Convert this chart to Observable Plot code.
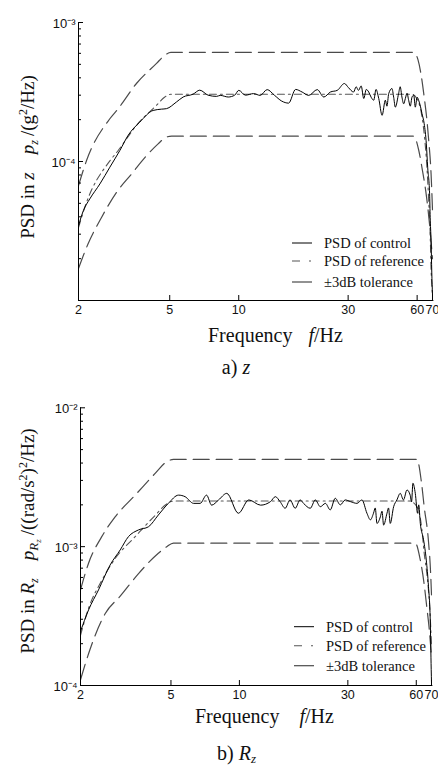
<!DOCTYPE html>
<html><head><meta charset="utf-8">
<script src="https://cdn.jsdelivr.net/npm/d3@7"></script>
<script src="https://cdn.jsdelivr.net/npm/@observablehq/plot@0.6"></script>
<style>
body{margin:0;background:#fff;}
#root{position:relative;width:438px;height:767px;overflow:hidden;background:#fff;}
#root svg{display:block;position:absolute;left:0;}
</style></head><body><div id="root"></div>
<script>
// ---------- data ----------
const xTicks = [2, 5, 10, 30, 60, 70];
const xTickLabels = ["2", "5", "10", "30", "60", "70"];
const legendLabels = ["PSD of control", "PSD of reference", "\u00B13dB tolerance"];

// a) z
const aYMajor = [1e-4, 1e-3];
const aYMinor = [2e-5,3e-5,4e-5,5e-5,6e-5,7e-5,8e-5,9e-5,2e-4,3e-4,4e-4,5e-4,6e-4,7e-4,8e-4,9e-4];
const aUpper = [[2,6.7e-5],[2.17,1.02e-4],[2.74,2.03e-4],[2.98,2.4e-4],[3.58,3.64e-4],[4.38,5.08e-4],[4.76,5.82e-4],[5.06,6.1e-4],[58,6.1e-4],[60.5,5.4e-4],[62.3,4.3e-4],[64.4,2.91e-4],[66.2,1.98e-4],[67.4,1.42e-4],[69,8.2e-5],[70,4.5e-5]];
const aRef = [[2,3.35e-5],[2.17,5.1e-5],[2.74,1.01e-4],[2.98,1.2e-4],[3.58,1.82e-4],[4.38,2.54e-4],[4.76,2.91e-4],[5.06,3.05e-4],[57,3.05e-4],[60,2.8e-4],[62.3,2.33e-4],[64.4,1.58e-4],[66.2,9.1e-5],[67.4,5.2e-5],[68.4,3e-5],[69,1.7e-5],[70,1.1e-5]];
const aLower = [[2,1.7e-5],[2.2,2.55e-5],[2.52,3.96e-5],[2.93,6.0e-5],[3.41,8.15e-5],[3.96,1.1e-4],[4.45,1.34e-4],[4.84,1.5e-4],[5.1,1.52e-4],[58,1.52e-4],[61,1.2e-4],[63,9e-5],[66,5.5e-5],[68,3.5e-5],[70,2e-5]];
const aControl = [[2.0,3.45e-5],[2.10,4.43e-5],[2.24,5.38e-5],[2.48,6.9e-5],[2.74,9.1e-5],[3.03,1.2e-4],[3.29,1.54e-4],[3.70,1.92e-4],[4.23,2.33e-4],[4.6,2.38e-4],[4.84,2.4e-4],[5.35,2.68e-4],[5.72,2.91e-4],[6.32,3.05e-4],[6.76,3.26e-4],[7.35,3.0e-4],[8.0,2.94e-4],[8.3,2.99e-4],[9.0,2.91e-4],[9.6,3.0e-4],[10.0,3.25e-4],[10.7,3.0e-4],[11.6,3.08e-4],[12.4,2.99e-4],[13.3,3.29e-4],[14.3,3.0e-4],[15.4,2.72e-4],[16.5,2.63e-4],[17.7,3.3e-4],[18.9,3.16e-4],[20.2,2.99e-4],[22.0,3.29e-4],[23.5,2.91e-4],[25.1,3.16e-4],[26.9,3.25e-4],[28.9,3.64e-4],[30.1,3.4e-4],[31.7,3.16e-4],[32.5,3.45e-4],[33.3,3.25e-4],[34.2,3.5e-4],[35.1,2.84e-4],[36.0,3.3e-4],[36.9,3.16e-4],[37.8,2.9e-4],[38.8,2.76e-4],[39.7,3.3e-4],[40.8,2.84e-4],[42.2,2.15e-4],[43.6,2.76e-4],[44.3,2.5e-4],[45.1,3.08e-4],[46.6,3.35e-4],[47.4,2.9e-4],[48.2,2.46e-4],[49.8,3.08e-4],[50.6,3.45e-4],[51.5,2.91e-4],[52.4,2.6e-4],[53.3,2.84e-4],[54.2,3.1e-4],[55.1,2.76e-4],[56.0,2.5e-4],[57.0,2.91e-4],[58.0,3.0e-4],[58.9,2.46e-4],[60.0,2.9e-4],[60.9,2.76e-4],[62.0,2.5e-4],[63.0,2.21e-4],[64.4,1.87e-4],[65.8,1.34e-4],[66.7,9.1e-5],[68.0,5.85e-5],[68.4,3.96e-5],[69.0,2.69e-5],[69.5,1.6e-5],[70,1.1e-5]];

// b) Rz
const bYMajor = [1e-4, 1e-3, 1e-2];
const bYMinor = [2e-4,3e-4,4e-4,5e-4,6e-4,7e-4,8e-4,9e-4,2e-3,3e-3,4e-3,5e-3,6e-3,7e-3,8e-3,9e-3];
const bUpper = [[2,4.88e-4],[2.17,7.6e-4],[2.48,1.18e-3],[2.84,1.64e-3],[3.48,2.35e-3],[4.26,3.37e-3],[4.79,4.09e-3],[5.13,4.25e-3],[60.4,4.25e-3],[63.3,2.86e-3],[65,1.94e-3],[67.8,1.12e-3],[69.4,6.4e-4],[70,4.5e-4]];
const bRef = [[2,2.3e-4],[2.17,3.6e-4],[2.48,5.7e-4],[2.84,8.2e-4],[3.48,1.18e-3],[4.26,1.68e-3],[4.79,2.03e-3],[5.13,2.13e-3],[56,2.13e-3],[60.4,1.94e-3],[63.3,1.39e-3],[65,9e-4],[67.2,5.8e-4],[69,3.3e-4],[70,1.9e-4]];
const bLower = [[2,1.1e-4],[2.2,1.81e-4],[2.57,3.3e-4],[2.99,4.4e-4],[3.6,6.4e-4],[4.4,8.96e-4],[4.79,1.0e-3],[5.13,1.06e-3],[59.4,1.06e-3],[62.5,8e-4],[64.9,5.45e-4],[66.7,3.7e-4],[68.5,2.5e-4],[70,1.6e-4]];
const bControl = [[2.0,2.45e-4],[2.17,3.5e-4],[2.40,4.88e-4],[2.70,7.38e-4],[2.99,9.47e-4],[3.25,1.18e-3],[3.60,1.32e-3],[3.98,1.39e-3],[4.40,1.69e-3],[4.87,2.05e-3],[5.40,2.35e-3],[5.77,2.29e-3],[6.29,2.05e-3],[6.72,2.05e-3],[7.17,2.35e-3],[7.55,1.99e-3],[8.1,2.17e-3],[8.8,2.42e-3],[9.9,1.74e-3],[11.0,2.17e-3],[12.4,1.99e-3],[13.7,2.11e-3],[14.4,2.29e-3],[15.1,2.11e-3],[15.9,1.89e-3],[16.7,2.17e-3],[17.6,1.89e-3],[18.5,2.17e-3],[19.15,2.05e-3],[20.5,1.89e-3],[21.57,2.17e-3],[22.7,1.94e-3],[23.9,2.05e-3],[25.1,1.84e-3],[26.4,2.23e-3],[27.8,2.0e-3],[29.2,2.17e-3],[30.8,2.11e-3],[32.9,2.05e-3],[34.6,2.17e-3],[36.4,1.74e-3],[37.7,1.56e-3],[38.9,1.74e-3],[39.6,1.9e-3],[40.3,1.47e-3],[41.7,1.64e-3],[42.4,1.8e-3],[43.1,1.43e-3],[44.6,1.74e-3],[45.3,1.9e-3],[46.1,1.47e-3],[47.7,1.94e-3],[49.3,2.17e-3],[51.0,2.42e-3],[52.7,2.17e-3],[54.6,2.56e-3],[56.4,2.35e-3],[57.2,2.1e-3],[58.0,2.86e-3],[59.4,2.42e-3],[60.8,1.74e-3],[61.5,2.0e-3],[62.5,1.47e-3],[64.6,1.12e-3],[66.4,8.0e-4],[67.9,5.15e-4],[69.1,2.97e-4],[69.8,1.3e-4],[70,1.05e-4]];

// ---------- drawing ----------
const SERIF = "'Liberation Serif','Times New Roman',Times,serif";
const SANS = "'Liberation Sans',Arial,Helvetica,sans-serif";
const TOL = "#4a4a4a", REF = "#555";
const supMap = {"-":"\u207B","0":"\u2070","1":"\u00B9","2":"\u00B2","3":"\u00B3","4":"\u2074","5":"\u2075","6":"\u2076","7":"\u2077","8":"\u2078","9":"\u2079"};
const fmtPow = d => "10" + String(Math.round(Math.log10(d))).split("").map(c => supMap[c]).join("");

function chart({height, mt, mb, ml, mr, yDomain, yMajor, yMinor, upper, ref, lower, control}) {
  const plotW = 438 - ml - mr, plotH = height - mt - mb;
  const line = (data, o) => Plot.line(data, {x: d => d[0], y: d => d[1], curve: "monotone-x", clip: true, ...o});
  return Plot.plot({
    width: 438, height, marginLeft: ml, marginRight: mr, marginTop: mt, marginBottom: mb,
    style: {fontFamily: SANS, fontSize: "12px", color: "#111", background: "transparent", overflow: "visible"},
    x: {type: "log", domain: [2, 71], label: null, axis: null},
    y: {type: "log", domain: yDomain, label: null, axis: null},
    marks: [
      line(upper, {stroke: TOL, strokeWidth: 1.2, strokeDasharray: "16,7"}),
      line(lower, {stroke: TOL, strokeWidth: 1.2, strokeDasharray: "16,7"}),
      line(ref, {stroke: REF, strokeWidth: 1.1, strokeDasharray: "7,4,2,4"}),
      line(control, {stroke: "#000", strokeWidth: 1}),
      Plot.ruleX([2], {stroke: "#000"}),
      Plot.ruleY([yDomain[0]], {stroke: "#000"}),
      Plot.tickX(xTicks, {x: d => d, stroke: "#000", insetTop: plotH - 5}),
      Plot.tickY(yMajor, {y: d => d, stroke: "#000", insetRight: plotW - 5}),
      Plot.tickY(yMinor, {y: d => d, stroke: "#000", insetRight: plotW - 3}),
      Plot.text(xTicks, {x: d => d, text: (d, i) => xTickLabels[i], frameAnchor: "bottom", dy: 13, fontSize: 12.5, fill: "#111"}),
      Plot.text(yMajor, {y: d => d, text: fmtPow, frameAnchor: "left", textAnchor: "end", dx: -3, dy: 1, fontSize: 13, fill: "#111"})
    ]
  });
}

function richText(sel, parts) {
  parts.forEach(p => {
    const t = sel.append("tspan").text(p.t);
    if (p.i) t.style("font-style", "italic");
    if (p.s) t.style("font-size", p.s + "px");
    if (p.dy) t.attr("dy", p.dy);
    if (p.dx) t.attr("dx", p.dx);
  });
}

function serifText(parent, size) {
  return parent.append("text").style("font-family", SERIF).style("font-size", size + "px").attr("fill", "#111");
}

function decorate(svg, o) {
  const s = d3.select(svg);
  const yl = serifText(s, 19).attr("transform", `translate(${o.ylx},${o.yly}) rotate(-90)`).attr("text-anchor", "middle");
  richText(yl, o.ylParts);
  const xt = serifText(s, 20).attr("x", o.xtx).attr("y", o.xty).attr("text-anchor", "start");
  richText(xt, [{t: "Frequency"}, {t: "f", i: true, dx: o.xtgap}, {t: "/Hz"}]);
  const cap = serifText(s, 20).attr("x", o.capx).attr("y", o.capy).attr("text-anchor", "middle");
  richText(cap, o.capParts);
  const g = s.append("g");
  const styles = [
    {stroke: "#000", w: 1, dash: null},
    {stroke: REF, w: 1.1, dash: "8,9,2,10"},
    {stroke: TOL, w: 1.2, dash: null}
  ];
  legendLabels.forEach((lab, i) => {
    const y = o.legYs[i];
    const ln = g.append("line").attr("x1", o.legX).attr("x2", o.legX + 20).attr("y1", y).attr("y2", y)
      .attr("stroke", styles[i].stroke).attr("stroke-width", styles[i].w);
    if (styles[i].dash) ln.attr("stroke-dasharray", styles[i].dash);
    serifText(g, 14.5).attr("x", o.legX + 32).attr("y", y).attr("dy", "0.35em").attr("text-anchor", "start").text(lab);
  });
}

const root = document.getElementById("root");

const svgA = chart({height: 390, mt: 22, mb: 90, ml: 78, mr: 4.6, yDomain: [1e-5, 1e-3], yMajor: aYMajor, yMinor: aYMinor,
  upper: aUpper, ref: aRef, lower: aLower, control: aControl});
svgA.style.top = "0px";
root.appendChild(svgA);
decorate(svgA, {
  ylx: 34, yly: 157,
  ylParts: [{t: "PSD in "}, {t: "z", i: true}, {t: "p", i: true, dx: 18}, {t: "z", i: true, s: 12, dy: 4}, {t: "/(g", dy: -4, dx: 4}, {t: "2", s: 12, dy: -7}, {t: "/Hz)", dy: 7}],
  xtx: 208, xty: 341.7, xtgap: 16,
  capx: 236, capy: 374,
  capParts: [{t: "a) "}, {t: "z", i: true}],
  legX: 292, legYs: [243, 261, 282]
});

const svgB = chart({height: 377, mt: 17.3, mb: 82, ml: 80, mr: 5.6, yDomain: [1e-4, 1e-2], yMajor: bYMajor, yMinor: bYMinor,
  upper: bUpper, ref: bRef, lower: bLower, control: bControl});
svgB.style.top = "390px";
root.appendChild(svgB);
decorate(svgB, {
  ylx: 34, yly: 151,
  ylParts: [{t: "PSD in "}, {t: "R", i: true}, {t: "z", i: true, s: 12, dy: 4}, {t: "p", i: true, dy: -4, dx: 18}, {t: "R", i: true, s: 13, dy: 4}, {t: "z", i: true, s: 9, dy: 3}, {t: "/((rad/s", dy: -7, dx: 4}, {t: "2", s: 12, dy: -7}, {t: ")", dy: 7}, {t: "2", s: 12, dy: -7}, {t: "/Hz)", dy: 7}],
  xtx: 195, xty: 333.3, xtgap: 20,
  capx: 236.5, capy: 369.5,
  capParts: [{t: "b) "}, {t: "R", i: true}, {t: "z", i: true, s: 13, dy: 3}],
  legX: 294, legYs: [236.7, 255.7, 275.7]
});
</script>
</body></html>
